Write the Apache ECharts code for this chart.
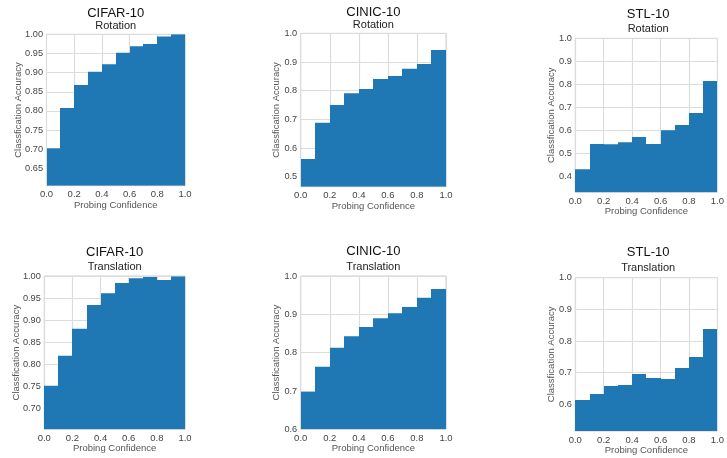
<!DOCTYPE html>
<html>
<head>
<meta charset="utf-8">
<script src="https://cdn.jsdelivr.net/npm/echarts@6/dist/echarts.min.js"></script>
<style>html,body{margin:0;padding:0;background:#fff}#c{width:727px;height:458px}</style>
</head>
<body>
<div id="c"></div>
<script>
// ---- data ----
const binEdges = [0.0, 0.1, 0.2, 0.3, 0.4, 0.5, 0.6, 0.7, 0.8, 0.9, 1.0];
const xTicks = [0.0, 0.2, 0.4, 0.6, 0.8, 1.0];

const datasets = ['CIFAR-10', 'CINIC-10', 'STL-10', 'CIFAR-10', 'CINIC-10', 'STL-10'];
const transforms = ['Rotation', 'Rotation', 'Rotation', 'Translation', 'Translation', 'Translation'];

const cifarRotation    = [0.703, 0.808, 0.868, 0.902, 0.922, 0.952, 0.969, 0.975, 0.994, 1.000];
const cinicRotation    = [0.562, 0.688, 0.750, 0.791, 0.806, 0.841, 0.851, 0.876, 0.893, 0.942];
const stlRotation      = [0.433, 0.542, 0.541, 0.550, 0.572, 0.542, 0.602, 0.624, 0.676, 0.815];
const cifarTranslation = [0.751, 0.819, 0.880, 0.934, 0.961, 0.984, 0.995, 0.998, 0.991, 0.999];
const cinicTranslation = [0.698, 0.763, 0.813, 0.843, 0.867, 0.890, 0.903, 0.919, 0.943, 0.966];
const stlTranslation   = [0.614, 0.633, 0.658, 0.661, 0.696, 0.683, 0.680, 0.715, 0.750, 0.838];

const yMins = [0.605, 0.465, 0.333, 0.652, 0.600, 0.516];
const yMax = 1.0;
const yTicksCifarRot   = [0.65, 0.70, 0.75, 0.80, 0.85, 0.90, 0.95, 1.00];
const yTicksCinicRot   = [0.5, 0.6, 0.7, 0.8, 0.9, 1.0];
const yTicksStlRot     = [0.4, 0.5, 0.6, 0.7, 0.8, 0.9, 1.0];
const yTicksCifarTrans = [0.70, 0.75, 0.80, 0.85, 0.90, 0.95, 1.00];
const yTicksCinicTrans = [0.6, 0.7, 0.8, 0.9, 1.0];
const yTicksStlTrans   = [0.6, 0.7, 0.8, 0.9, 1.0];
const yDecimals = [2, 1, 1, 2, 1, 1];

const xName = 'Probing Confidence';
const yName = 'Classfication Accuracy';

// ---- layout / style ----
const seriesValues = [cifarRotation, cinicRotation, stlRotation, cifarTranslation, cinicTranslation, stlTranslation];
const yTickSets = [yTicksCifarRot, yTicksCinicRot, yTicksStlRot, yTicksCifarTrans, yTicksCinicTrans, yTicksStlTrans];
const layouts = [
  {left: 46.5, top: 34.3, width: 138.5, height: 151.4},
  {left: 300.7, top: 33.3, width: 145.3, height: 153.4},
  {left: 575.3, top: 38.3, width: 145.7, height: 154.0},
  {left: 44.3, top: 276.0, width: 140.7, height: 153.3},
  {left: 300.7, top: 276.0, width: 145.3, height: 153.3},
  {left: 575.3, top: 277.7, width: 145.7, height: 153.3}
];
const titleY = [13.8, 12.8, 14.0, 252.0, 251.0, 252.0];
const subY = [26.3, 25.3, 29.0, 267.0, 267.0, 268.0];
const yNameGaps = [23.5, 19, 18.5, 23, 19, 18.5];

const FONT = '"Liberation Sans", Arial, sans-serif';
const BAR = '#1f77b4';
const GRIDC = '#dcdcdc';

const grid = [], xAxis = [], yAxis = [], series = [], graphic = [];
layouts.forEach((l, i) => {
  grid.push({left: l.left, top: l.top, width: l.width, height: l.height, show: true,
    borderColor: '#cfcfcf', borderWidth: 1, backgroundColor: 'transparent', containLabel: false});
  xAxis.push({type: 'value', gridIndex: i, min: 0, max: 1, interval: 0.2,
    name: xName, nameLocation: 'middle', nameGap: 14.5, nameMoveOverlap: false,
    nameTextStyle: {fontFamily: FONT, fontSize: 9.5, color: '#555'},
    axisLine: {show: false}, axisTick: {show: false},
    axisLabel: {fontFamily: FONT, fontSize: 9.5, color: '#444', margin: 4,
      showMinLabel: true, showMaxLabel: true, formatter: v => v.toFixed(1)},
    splitLine: {show: true, lineStyle: {color: GRIDC, width: 1.2}}
  });
  const dec = yDecimals[i];
  yAxis.push({type: 'value', gridIndex: i, min: yMins[i], max: yMax,
    name: yName, nameLocation: 'middle', nameGap: yNameGaps[i], nameMoveOverlap: false,
    nameTextStyle: {fontFamily: FONT, fontSize: 9.5, color: '#555'},
    axisLine: {show: false},
    axisTick: {show: false, customValues: yTickSets[i]},
    axisLabel: {fontFamily: FONT, fontSize: 9.2, color: '#444', margin: 3.5,
      customValues: yTickSets[i], formatter: v => v.toFixed(dec)},
    splitLine: {show: true, lineStyle: {color: GRIDC, width: 1.2}}
  });
  const vals = seriesValues[i];
  const ymin = yMins[i];
  series.push({
    type: 'custom', xAxisIndex: i, yAxisIndex: i,
    data: vals.map((v, k) => [binEdges[k], binEdges[k + 1], v]),
    encode: {x: [0, 1], y: 2},
    clip: true,
    renderItem: (params, api) => {
      const p0 = api.coord([api.value(0), api.value(2)]);
      const p1 = api.coord([api.value(1), ymin]);
      const x0 = Math.round(p0[0]), x1 = Math.round(p1[0]);
      return {type: 'rect',
        shape: {x: x0, y: p0[1], width: x1 - x0, height: p1[1] - p0[1]},
        style: {fill: BAR}};
    }
  });
  const cx = l.left + l.width / 2;
  graphic.push({type: 'text', x: cx, y: titleY[i], style: {text: datasets[i], fill: '#111',
    font: '13px ' + FONT, textAlign: 'center', textVerticalAlign: 'middle'}});
  graphic.push({type: 'text', x: cx, y: subY[i], style: {text: transforms[i], fill: '#222',
    font: '11px ' + FONT, textAlign: 'center', textVerticalAlign: 'middle'}});
});

const chart = echarts.init(document.getElementById('c'), null, {renderer: 'canvas'});
chart.setOption({animation: false, backgroundColor: '#fff', grid, xAxis, yAxis, series, graphic});
</script>
</body>
</html>
